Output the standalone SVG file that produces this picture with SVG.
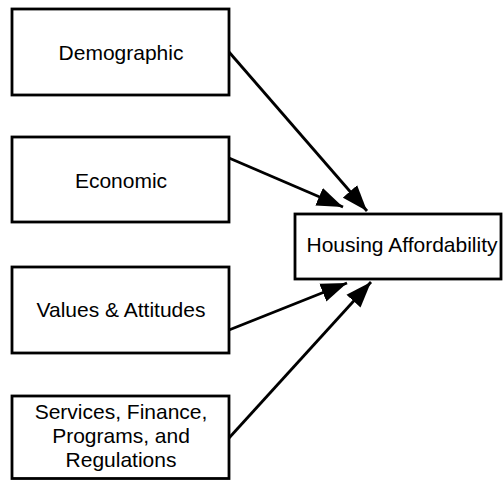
<svg xmlns="http://www.w3.org/2000/svg" width="503" height="480" viewBox="0 0 503 480">
  <style>
    .box { fill: #fff; stroke: #000; stroke-width: 2.8; }
    .lbl { font-family: "Liberation Sans", Arial, sans-serif; font-size: 21px; fill: #000; text-anchor: middle; }
    .edge { stroke: #000; stroke-width: 2.8; fill: none; marker-end: url(#head); }
  </style>
  <defs>
    <marker id="head" markerUnits="userSpaceOnUse" markerWidth="28" markerHeight="20" refX="26" refY="9.5" orient="auto" viewBox="0 0 28 19">
      <path d="M0,0 L26,9.5 L0,19 Z" fill="#000"/>
    </marker>
  </defs>
  <rect width="503" height="480" fill="#fff"/>

  <g id="demographic">
    <rect class="box" x="12" y="9" width="217" height="86"/>
    <text class="lbl" x="121" y="60">Demographic</text>
  </g>
  <g id="economic">
    <rect class="box" x="12" y="137" width="217" height="85"/>
    <text class="lbl" x="121" y="188">Economic</text>
  </g>
  <g id="values">
    <rect class="box" x="12" y="267" width="217" height="86"/>
    <text class="lbl" x="121" y="317">Values &amp; Attitudes</text>
  </g>
  <g id="services">
    <rect class="box" x="12" y="396" width="217" height="82.5"/>
    <text class="lbl" x="121" y="419">Services, Finance,</text>
    <text class="lbl" x="121" y="443">Programs, and</text>
    <text class="lbl" x="121" y="467">Regulations</text>
  </g>
  <g id="housing">
    <rect class="box" x="295" y="214" width="206" height="65"/>
    <text class="lbl" x="402" y="252">Housing Affordability</text>
  </g>

  <g id="connectors">
    <line class="edge" x1="229" y1="52" x2="367" y2="211"/>
    <line class="edge" x1="229" y1="158" x2="343" y2="207"/>
    <line class="edge" x1="229" y1="330" x2="347" y2="283"/>
    <line class="edge" x1="229" y1="438" x2="371" y2="282"/>
  </g>
</svg>
